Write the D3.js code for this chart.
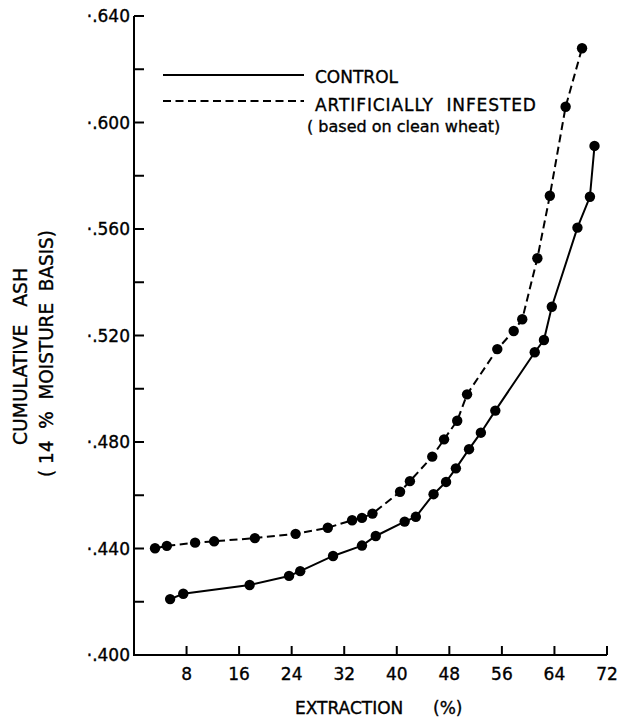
<!DOCTYPE html>
<html>
<head>
<meta charset="utf-8">
<script src="https://cdn.jsdelivr.net/npm/d3@7"></script>
<style>
  body { margin: 0; background: #fff; }
  svg text { font-family: "DejaVu Sans", sans-serif; fill: #000; stroke: #000; stroke-width: 0.35px; white-space: pre; }
</style>
</head>
<body>
<svg id="chart"></svg>
<script>
// extraction (%) and cumulative ash
const controlX = [5.5, 7.5, 17.6, 23.6, 25.3, 30.3, 34.7, 36.8, 41.2, 42.9, 45.6, 47.5, 49.0, 51.0, 52.8, 55.0, 61.0, 62.4, 63.6, 67.5, 69.4, 70.1];
const controlY = [.421, .423, .4263, .4297, .4315, .4372, .4411, .4447, .4501, .4519, .4604, .4650, .4701, .4773, .4835, .4918, .5137, .5183, .5308, .5605, .5721, .5912];
const infestedX = [3.2, 5.0, 9.3, 12.2, 18.4, 24.6, 29.5, 33.2, 34.7, 36.3, 40.5, 42.0, 45.4, 47.2, 49.2, 50.7, 55.3, 57.8, 59.1, 61.4, 63.3, 65.7, 68.2];
const infestedY = [.4401, .4410, .4422, .4427, .4439, .4455, .4478, .4506, .4515, .4531, .4613, .4653, .4745, .4810, .4880, .4979, .5149, .5217, .5261, .5490, .5725, .6059, .6279];
const xTicks = [8, 16, 24, 32, 40, 48, 56, 64, 72];
const yTicks = [.400, .420, .440, .460, .480, .500, .520, .540, .560, .580, .600, .620, .640];
const yLabelled = [.400, .440, .480, .520, .560, .600, .640];

const width = 619, height = 719;
const svg = d3.select('#chart').attr('width', width).attr('height', height);

const x = d3.scaleLinear().domain([0, 72]).range([134, 607]);
const y = d3.scaleLinear().domain([.400, .640]).range([655, 16]);

// axes: lines + inward ticks
const axis = svg.append('g').attr('stroke', '#000').attr('stroke-width', 2).attr('fill', 'none');
axis.append('path').attr('d', `M${x(0)},${y(.640)} V${y(.400)} H${x(72)}`);

axis.selectAll('.xt').data(xTicks).join('line')
    .attr('x1', d => x(d)).attr('x2', d => x(d))
    .attr('y1', y(.400)).attr('y2', y(.400) - 9);

axis.selectAll('.yt').data(yTicks).join('line')
    .attr('x1', x(0)).attr('x2', x(0) + 10)
    .attr('y1', d => y(d)).attr('y2', d => y(d));

svg.selectAll('.xl').data(xTicks).join('text')
    .attr('x', d => x(d)).attr('y', 680)
    .attr('text-anchor', 'middle')
    .attr('font-size', 17)
    .text(d => d);

svg.selectAll('.yl').data(yLabelled).join('text')
    .attr('x', x(0) - 4).attr('y', d => y(d) + 6)
    .attr('text-anchor', 'end')
    .attr('font-size', 17)
    .text(d => '·' + d3.format('.3f')(d).slice(1));

svg.append('text').attr('x', 295).attr('y', 714)
    .attr('font-size', 17).text('EXTRACTION');
svg.append('text').attr('x', 433).attr('y', 714)
    .attr('font-size', 17).text('(%)');

svg.append('text')
    .attr('transform', 'translate(27,445) rotate(-90)')
    .attr('font-size', 19)
    .attr('textLength', 177).attr('lengthAdjust', 'spacingAndGlyphs')
    .text('CUMULATIVE   ASH');
svg.append('text')
    .attr('transform', 'translate(53,477) rotate(-90)')
    .attr('font-size', 19)
    .attr('textLength', 247).attr('lengthAdjust', 'spacingAndGlyphs')
    .text('( 14  %  MOISTURE  BASIS)');

const line = d3.line().x(d => x(d[0])).y(d => y(d[1]));
const control = d3.zip(controlX, controlY);
const infested = d3.zip(infestedX, infestedY);

svg.append('path').datum(control)
    .attr('d', line).attr('fill', 'none')
    .attr('stroke', '#000').attr('stroke-width', 2);
svg.append('path').datum(infested)
    .attr('d', line).attr('fill', 'none')
    .attr('stroke', '#000').attr('stroke-width', 2)
    .attr('stroke-dasharray', '8,4.5');

svg.append('g').selectAll('circle').data(control.concat(infested)).join('circle')
    .attr('cx', d => x(d[0])).attr('cy', d => y(d[1]))
    .attr('r', 5.2).attr('fill', '#000');

// legend
const leg = svg.append('g');
leg.append('line').attr('x1', 163).attr('x2', 304).attr('y1', 75).attr('y2', 75)
    .attr('stroke', '#000').attr('stroke-width', 2);
leg.append('line').attr('x1', 163).attr('x2', 304).attr('y1', 101).attr('y2', 101)
    .attr('stroke', '#000').attr('stroke-width', 2).attr('stroke-dasharray', '8,4.5');
leg.append('text').attr('x', 315).attr('y', 83).attr('font-size', 17).text('CONTROL');
leg.append('text').attr('x', 315).attr('y', 111).attr('font-size', 17).attr('letter-spacing', 0.9).text('ARTIFICIALLY  INFESTED');
leg.append('text').attr('x', 307).attr('y', 132).attr('font-size', 16).text('( based on clean wheat)');
</script>
</body>
</html>
